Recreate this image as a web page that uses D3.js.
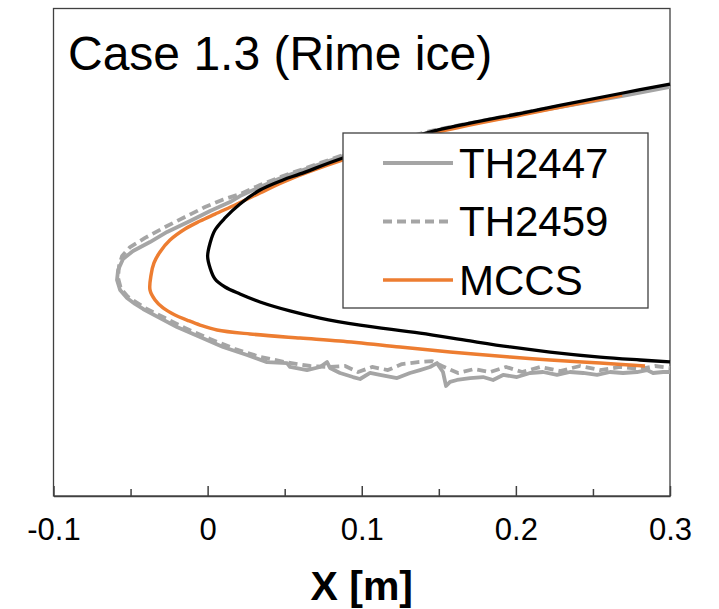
<!DOCTYPE html>
<html>
<head>
<meta charset="utf-8">
<script src="https://cdn.jsdelivr.net/npm/d3@7"></script>
<style>
  html, body { margin: 0; padding: 0; background: #fff; }
  #chart { width: 719px; height: 609px; }
  text { font-family: "Liberation Sans", Arial, sans-serif; }
</style>
</head>
<body>
<div id="chart"></div>
<script>
// x ticks (m)
const xTicks = [-0.1, 0, 0.1, 0.2, 0.3];
const xTickLabels = ["-0.1", "0", "0.1", "0.2", "0.3"];
const xMinorTicks = [-0.05, 0.05, 0.15, 0.25];

// clean airfoil contour [x, y]
const clean = [
  [0.300, 0.1035], [0.2695, 0.0980], [0.2072, 0.0863], [0.1443, 0.0740], [0.1118, 0.0648],
  [0.0878, 0.0580], [0.0600, 0.0482], [0.0489, 0.0445], [0.0340, 0.0383], [0.0210, 0.0297],
  [0.0113, 0.0211], [0.0048, 0.0137], [0.0016, 0.0057], [0.0000, -0.0025], [0.0016, -0.0097],
  [0.0048, -0.0165], [0.0113, -0.0214], [0.0210, -0.0257], [0.0340, -0.0306], [0.0534, -0.0361],
  [0.0729, -0.0405], [0.0989, -0.0448], [0.1378, -0.0497], [0.1703, -0.0546], [0.1962, -0.0583],
  [0.2222, -0.0614], [0.2546, -0.0645], [0.2806, -0.0663], [0.300, -0.0675]
];

// MCCS ice shape
const mccs = [
  [0.2689, 0.0968], [0.2072, 0.0852], [0.1443, 0.0728], [0.0878, 0.0568], [0.0489, 0.0432],
  [0.0340, 0.0365], [0.0191, 0.0297], [0.0048, 0.0235], [-0.0049, 0.0192], [-0.0147, 0.0143],
  [-0.0244, 0.0075], [-0.0309, 0.0002], [-0.0348, -0.0066], [-0.0367, -0.0140], [-0.0374, -0.0232],
  [-0.0341, -0.0294], [-0.0289, -0.0343], [-0.0212, -0.0386], [-0.0134, -0.0417], [-0.0049, -0.0448],
  [0.0061, -0.0478], [0.0275, -0.0503], [0.0600, -0.0528], [0.0859, -0.0546], [0.1248, -0.0583],
  [0.1573, -0.0614], [0.1962, -0.0645], [0.2222, -0.0663], [0.2546, -0.0682], [0.2838, -0.0700]
];

// TH2447 experimental ice shape
const th2447 = [
  [0.3000, 0.1017], [0.2695, 0.0962], [0.2072, 0.0857], [0.1443, 0.0740], [0.0878, 0.0592],
  [0.0489, 0.0463], [0.0340, 0.0402], [0.0210, 0.0346], [0.0145, 0.0309], [0.0016, 0.0254],
  [-0.0114, 0.0192], [-0.0263, 0.0125], [-0.0374, 0.0063], [-0.0484, 0.0008], [-0.0549, -0.0042],
  [-0.0581, -0.0109], [-0.0588, -0.0171], [-0.0568, -0.0232], [-0.0523, -0.0282], [-0.0471, -0.0318],
  [-0.0419, -0.0349], [-0.0309, -0.0405], [-0.0199, -0.0460], [-0.0049, -0.0522], [0.0100, -0.0583],
  [0.0256, -0.0632], [0.0385, -0.0676], [0.0515, -0.0682], [0.0535, -0.0706], [0.0645, -0.0725],
  [0.0729, -0.0706], [0.0775, -0.0676], [0.0794, -0.0712], [0.0859, -0.0743], [0.0943, -0.0768],
  [0.0989, -0.0780], [0.1054, -0.0743], [0.1118, -0.0755], [0.1229, -0.0774], [0.1313, -0.0743],
  [0.1378, -0.0725], [0.1443, -0.0706], [0.1488, -0.0682], [0.1527, -0.0737], [0.1547, -0.0823],
  [0.1573, -0.0798], [0.1618, -0.0786], [0.1703, -0.0774], [0.1787, -0.0768], [0.1852, -0.0786],
  [0.1917, -0.0755], [0.2007, -0.0768], [0.2092, -0.0743], [0.2176, -0.0737], [0.2267, -0.0755],
  [0.2351, -0.0737], [0.2436, -0.0743], [0.2527, -0.0755], [0.2611, -0.0737], [0.2695, -0.0743],
  [0.2786, -0.0737], [0.2851, -0.0725], [0.2890, -0.0743], [0.2955, -0.0737], [0.3000, -0.0737]
];

// TH2459 experimental ice shape
const th2459 = [
  [0.3000, 0.1023], [0.2695, 0.0968], [0.2072, 0.0863], [0.1443, 0.0746], [0.0878, 0.0598],
  [0.0489, 0.0469], [0.0340, 0.0414], [0.0210, 0.0358], [0.0094, 0.0322], [-0.0017, 0.0278],
  [-0.0147, 0.0217], [-0.0276, 0.0155], [-0.0406, 0.0088], [-0.0503, 0.0032], [-0.0555, -0.0023],
  [-0.0575, -0.0085], [-0.0581, -0.0158], [-0.0562, -0.0226], [-0.0516, -0.0275], [-0.0406, -0.0343],
  [-0.0276, -0.0405], [-0.0147, -0.0466], [0.0016, -0.0534], [0.0178, -0.0595], [0.0340, -0.0644],
  [0.0502, -0.0676], [0.0665, -0.0700], [0.0794, -0.0706], [0.0892, -0.0700], [0.0976, -0.0737],
  [0.1067, -0.0706], [0.1170, -0.0725], [0.1261, -0.0688], [0.1365, -0.0676], [0.1456, -0.0670],
  [0.1521, -0.0700], [0.1625, -0.0743], [0.1728, -0.0719], [0.1832, -0.0737], [0.1936, -0.0706],
  [0.2040, -0.0737], [0.2157, -0.0706], [0.2287, -0.0731], [0.2416, -0.0700], [0.2546, -0.0725],
  [0.2676, -0.0706], [0.2806, -0.0719], [0.2903, -0.0700], [0.3000, -0.0712]
];

const legendNames = ["TH2447", "TH2459", "MCCS"];

function drawChart() {
  const width = 719, height = 609;
  const margin = { top: 8.5, right: 49, bottom: 113, left: 53.5 };

  const svg = d3.select("#chart").append("svg")
    .attr("width", width)
    .attr("height", height);

  const x = d3.scaleLinear()
    .domain([-0.1, 0.3])
    .range([margin.left, width - margin.right]);

  const y = d3.scaleLinear()
    .domain([-0.15, 0.15])
    .range([height - margin.bottom, margin.top]);

  // frame
  svg.append("rect")
    .attr("x", margin.left)
    .attr("y", margin.top)
    .attr("width", x(0.3) - margin.left)
    .attr("height", y(-0.15) - margin.top)
    .attr("fill", "none")
    .attr("stroke", "#404040")
    .attr("stroke-width", 1.3);

  const line = d3.line().x(d => x(d[0])).y(d => y(d[1]));
  const smooth = d3.line().x(d => x(d[0])).y(d => y(d[1])).curve(d3.curveCatmullRom);

  svg.append("path").datum(th2447)
    .attr("fill", "none").attr("stroke", "#a5a5a5").attr("stroke-width", 3.8)
    .attr("stroke-linejoin", "round").attr("d", line);

  svg.append("path").datum(th2459)
    .attr("fill", "none").attr("stroke", "#a5a5a5").attr("stroke-width", 3.8)
    .attr("stroke-dasharray", "9,5").attr("stroke-linejoin", "round").attr("d", line);

  svg.append("path").datum(mccs)
    .attr("fill", "none").attr("stroke", "#ed7d31").attr("stroke-width", 3.5)
    .attr("d", smooth);

  svg.append("path").datum(clean)
    .attr("fill", "none").attr("stroke", "#000").attr("stroke-width", 3.3)
    .attr("d", smooth);

  // x axis with inward ticks
  const axisY = y(-0.15);
  const gx = svg.append("g")
    .attr("transform", `translate(0,${axisY})`)
    .call(d3.axisBottom(x).tickValues(xTicks).tickSizeInner(-10).tickSizeOuter(0)
      .tickPadding(22).tickFormat((d, i) => xTickLabels[i]));
  gx.select(".domain").attr("stroke", "#404040").attr("stroke-width", 1.5);
  gx.selectAll(".tick line").attr("stroke", "#404040").attr("stroke-width", 1.5);
  gx.selectAll(".tick text")
    .attr("font-size", 31)
    .attr("font-family", "'Liberation Sans', Arial, sans-serif")
    .attr("fill", "#000")
    .attr("dy", "0.71em");

  const gm = svg.append("g")
    .attr("transform", `translate(0,${axisY})`)
    .call(d3.axisBottom(x).tickValues(xMinorTicks).tickSizeInner(-7).tickSizeOuter(0)
      .tickFormat(""));
  gm.select(".domain").remove();
  gm.selectAll(".tick line").attr("stroke", "#404040").attr("stroke-width", 1.5);

  // axis title
  svg.append("text")
    .attr("x", x(0.1))
    .attr("y", 600)
    .attr("text-anchor", "middle")
    .attr("font-size", 41)
    .attr("font-weight", "bold")
    .text("X [m]");

  // case title
  svg.append("text")
    .attr("x", 68)
    .attr("y", 70)
    .attr("font-size", 48)
    .text("Case 1.3 (Rime ice)");

  // legend
  const leg = svg.append("g").attr("transform", "translate(343,133)");
  leg.append("rect")
    .attr("width", 305).attr("height", 175)
    .attr("fill", "#fff").attr("stroke", "#404040").attr("stroke-width", 1.3);

  const legStyles = [
    { color: "#a5a5a5", dash: null, w: 3.8 },
    { color: "#a5a5a5", dash: "9,5", w: 3.8 },
    { color: "#ed7d31", dash: null, w: 3.5 }
  ];
  legendNames.forEach((name, i) => {
    const cy = 30 + i * 58.5;
    leg.append("line")
      .attr("x1", 40).attr("x2", 110)
      .attr("y1", cy).attr("y2", cy)
      .attr("stroke", legStyles[i].color)
      .attr("stroke-width", legStyles[i].w)
      .attr("stroke-dasharray", legStyles[i].dash);
    leg.append("text")
      .attr("x", 116).attr("y", cy + 14.5)
      .attr("font-size", 42)
      .text(name);
  });
}

drawChart();
</script>
</body>
</html>
